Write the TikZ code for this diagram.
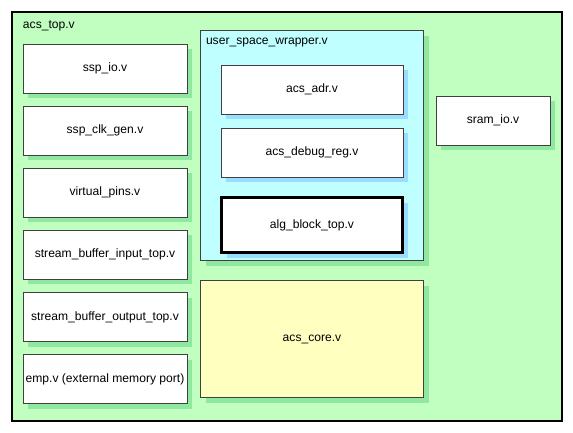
\documentclass[tikz,border=0pt]{standalone}
\usepackage{fontspec}
\setmainfont{Liberation Sans}
\usetikzlibrary{shadows}
\definecolor{topgreen}{HTML}{C0FFC0}
\definecolor{greenshadow}{HTML}{90E8A0}
\definecolor{wrapcyan}{HTML}{C0FFFF}
\definecolor{blueshadow}{HTML}{99DDFF}
\definecolor{coreyellow}{HTML}{FFFFC0}
\definecolor{edgegray}{HTML}{404040}
\begin{document}
\begin{tikzpicture}[x=1pt,y=-1pt,
  every node/.style={font=\fontsize{12.1}{14}\selectfont, inner sep=0pt, outer sep=0pt},
  modbox/.style={draw=edgegray, line width=1pt, fill=white, anchor=north west,
    drop shadow={shadow xshift=5pt, shadow yshift=-5pt, fill=greenshadow, opacity=1}},
  innerbox/.style={modbox, drop shadow={shadow xshift=5pt, shadow yshift=-5pt, fill=blueshadow, opacity=1}},
  leftbox/.style={modbox, minimum width=164pt, minimum height=49pt},
  lbl/.style={anchor=base west}
]
\useasboundingbox (0,0) rectangle (573,432);
\fill[white] (0,0) rectangle (573,432);
% outer container
\node[draw=black, line width=2pt, fill=topgreen, anchor=north west,
  minimum width=550pt, minimum height=409pt] (top) at (11.5,11.5) {};
\node[lbl] (toplbl) at (23,28) {acs\_top.v};
% left column
\node[leftbox] (sspio) at (23,44) {ssp\_io.v};
\node[leftbox] (sspclk) at (23,106) {ssp\_clk\_gen.v};
\node[leftbox] (vpins) at (23,168) {virtual\_pins.v};
\node[leftbox] (sbin) at (23,230) {stream\_buffer\_input\_top.v};
\node[leftbox] (sbout) at (23,292.5) {stream\_buffer\_output\_top.v};
\node[leftbox] (emp) at (23,354.5) {emp.v (external memory port)};
% wrapper
\node[modbox, fill=wrapcyan, minimum width=223pt, minimum height=230pt] (wrap) at (200.5,30.5) {};
\node[lbl] (wraplbl) at (206,44) {user\_space\_wrapper.v};
\node[innerbox, minimum width=182pt, minimum height=49pt] (adr) at (221,65) {acs\_adr.v};
\node[innerbox, minimum width=182pt, minimum height=49pt] (dbg) at (221,128) {acs\_debug\_reg.v};
\node[innerbox, draw=black, line width=2.2pt, minimum width=181pt, minimum height=55pt] (alg) at (221.5,197.5) {alg\_block\_top.v};
% core
\node[modbox, fill=coreyellow, minimum width=223pt, minimum height=117pt] (core) at (200.5,280.5) {acs\_core.v};
% sram
\node[modbox, minimum width=114pt, minimum height=49pt] (sram) at (436,96) {sram\_io.v};
\end{tikzpicture}
\end{document}
